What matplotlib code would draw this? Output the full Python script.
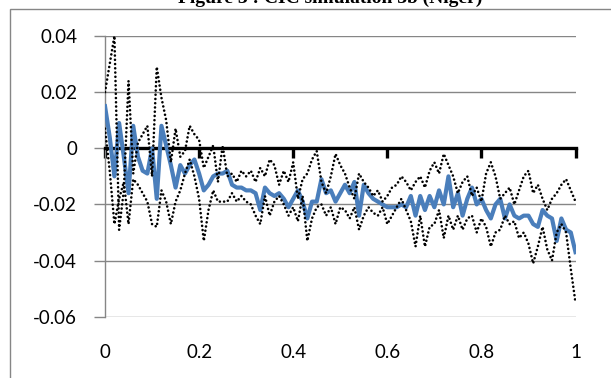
import numpy as np
import matplotlib
matplotlib.use("Agg")
import matplotlib.pyplot as plt
from matplotlib.patches import Rectangle

# ---- data ----
title = "Figure 3 : CIC simulation 3b (Niger)"
x_vals = [i / 100 for i in range(101)]

estimate = [
    0.015, 0.004, -0.010, 0.009, -0.003, -0.016, 0.008, -0.003, -0.008, -0.009,
    0.000, -0.018, 0.008, 0.001, -0.006, -0.014, -0.006, -0.009, -0.006, -0.004,
    -0.009, -0.015, -0.013, -0.010, -0.009, -0.009, -0.008, -0.013, -0.014, -0.014,
    -0.015, -0.015, -0.016, -0.022, -0.014, -0.016, -0.017, -0.016, -0.018, -0.021,
    -0.018, -0.015, -0.019, -0.025, -0.019, -0.019, -0.011, -0.016, -0.015, -0.019,
    -0.016, -0.013, -0.016, -0.012, -0.024, -0.013, -0.016, -0.018, -0.019, -0.020,
    -0.021, -0.021, -0.021, -0.020, -0.021, -0.017, -0.024, -0.017, -0.022, -0.017,
    -0.021, -0.015, -0.020, -0.010, -0.021, -0.016, -0.024, -0.018, -0.014, -0.020,
    -0.018, -0.022, -0.025, -0.020, -0.018, -0.025, -0.020, -0.024, -0.025, -0.024,
    -0.024, -0.027, -0.028, -0.022, -0.024, -0.025, -0.033, -0.025, -0.029, -0.030,
    -0.037,
]

bound_a = [
    0.020, 0.030, 0.040, -0.029, -0.015, 0.024, -0.009, 0.002, 0.005, 0.008,
    -0.010, 0.029, 0.018, 0.010, -0.005, 0.007, -0.003, -0.001, 0.008, 0.005,
    0.003, -0.007, -0.003, 0.001, -0.012, 0.001, -0.010, -0.009, -0.012, -0.008,
    -0.010, -0.008, -0.012, -0.007, -0.010, -0.004, -0.006, -0.013, -0.008, -0.012,
    -0.005, -0.018, -0.011, -0.009, -0.004, -0.001, -0.012, -0.016, -0.010, -0.002,
    -0.006, -0.009, -0.014, -0.018, -0.009, -0.012, -0.014, -0.017, -0.015, -0.019,
    -0.017, -0.014, -0.013, -0.010, -0.012, -0.015, -0.012, -0.010, -0.014, -0.008,
    -0.005, -0.009, -0.002, -0.006, -0.010, -0.016, -0.012, -0.010, -0.017, -0.014,
    -0.019, -0.009, -0.005, -0.010, -0.018, -0.016, -0.014, -0.020, -0.015, -0.010,
    -0.008, -0.016, -0.013, -0.018, -0.022, -0.018, -0.016, -0.013, -0.011, -0.015,
    -0.019,
]

bound_b = [
    0.007, -0.008, -0.027, -0.018, -0.012, -0.027, -0.011, -0.013, -0.016, -0.019,
    -0.027, -0.028, -0.015, -0.019, -0.027, -0.019, -0.015, -0.009, -0.004, -0.010,
    -0.018, -0.033, -0.022, -0.015, -0.019, -0.019, -0.019, -0.016, -0.019, -0.017,
    -0.019, -0.020, -0.024, -0.027, -0.017, -0.024, -0.019, -0.017, -0.020, -0.024,
    -0.021, -0.026, -0.017, -0.033, -0.025, -0.021, -0.020, -0.024, -0.021, -0.027,
    -0.021, -0.022, -0.025, -0.021, -0.029, -0.024, -0.021, -0.023, -0.024, -0.021,
    -0.027, -0.024, -0.021, -0.018, -0.022, -0.026, -0.035, -0.024, -0.035, -0.028,
    -0.027, -0.022, -0.032, -0.024, -0.029, -0.024, -0.029, -0.025, -0.024, -0.030,
    -0.025, -0.028, -0.035, -0.030, -0.029, -0.024, -0.027, -0.026, -0.032, -0.030,
    -0.034, -0.041, -0.035, -0.028, -0.036, -0.040, -0.030, -0.027, -0.030, -0.043,
    -0.055,
]

x_ticks = [0, 0.2, 0.4, 0.6, 0.8, 1]
x_tick_labels = ["0", "0.2", "0.4", "0.6", "0.8", "1"]
y_ticks = [0.04, 0.02, 0, -0.02, -0.04, -0.06]
y_tick_labels = ["0.04", "0.02", "0", "-0.02", "-0.04", "-0.06"]

# ---- figure ----
W, H = 611, 378
fig = plt.figure(figsize=(W / 100, H / 100), dpi=100)
ax = fig.add_axes([105 / W, 1 - 316.7 / H, (575.5 - 105) / W, (316.7 - 36) / H])

grey = "#868686"
blue = "#4A7EBB"
font = "Lato"
dots = (0, (0.01, 1.6))

ax.plot(x_vals, estimate, color=blue, lw=3.0, solid_joinstyle="round", zorder=3)
ax.plot(x_vals, bound_a, color="black", lw=1.9, ls=dots,
        dash_capstyle="round", zorder=4)
ax.plot(x_vals, bound_b, color="black", lw=1.9, ls=dots,
        dash_capstyle="round", zorder=4)

ax.set_xlim(0, 1)
ax.set_ylim(-0.06, 0.04)

# y axis
ax.tick_params(axis="y", direction="out", length=8, width=1.0, color=grey, pad=12)
ax.set_yticks(y_ticks, labels=y_tick_labels, fontsize=13.5, family=font,
              color="black")
ax.grid(axis="y", color=grey, lw=1.0, zorder=1)
ax.set_axisbelow(True)

# x: labels at the bottom, tick marks on the zero line (top spine moved to 0)
ax.spines["top"].set_position(("data", 0))
ax.spines["top"].set_color("black")
ax.spines["top"].set_linewidth(2.4)
ax.spines["top"].set_zorder(2.5)
ax.tick_params(axis="x", bottom=True, labelbottom=True, top=True, labeltop=False)
ax.xaxis.set_tick_params(which="major", direction="in", length=7, width=2.4,
                         color="black")
ax.tick_params(axis="x", bottom=False, pad=20)
ax.set_xticks(x_ticks, labels=x_tick_labels, fontsize=13.5, family=font,
              color="black")

ax.spines["bottom"].set_visible(False)
ax.spines["right"].set_visible(False)
ax.spines["left"].set_color(grey)
ax.spines["left"].set_linewidth(1.0)

# outer frame (only top and left edges are visible)
fig.patches.append(Rectangle((9.5 / W, -0.5), 2, 1 - 8.5 / H + 0.5,
                             transform=fig.transFigure, fill=False,
                             edgecolor=grey, lw=1.0, clip_on=False))

fig.text(330 / W, 1 - 3 / H, title, ha="center", va="baseline",
         family="Liberation Serif", fontweight="bold", fontsize=14)

fig.savefig("out.png", dpi=100)
